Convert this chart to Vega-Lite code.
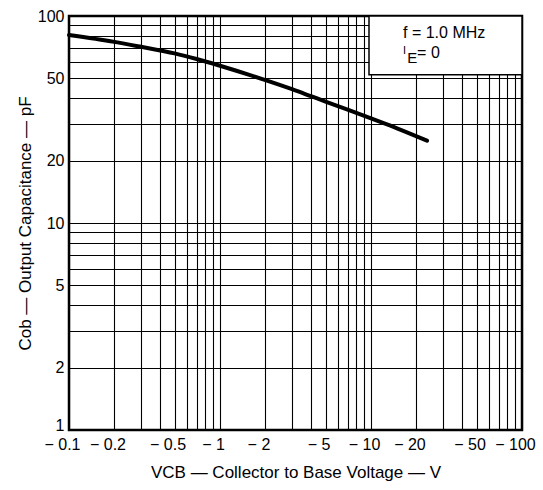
{
  "$schema": "https://vega.github.io/schema/vega-lite/v6.json",
  "width": 453,
  "height": 414,
  "autosize": {"type": "none"},
  "padding": {"left": 69, "top": 16, "right": 21, "bottom": 60},
  "background": "white",
  "config": {
    "font": "Liberation Sans",
    "view": {"stroke": "black", "strokeWidth": 2.5},
    "axis": {
      "grid": true,
      "gridColor": "black",
      "gridOpacity": 1,
      "gridWidth": 1.1,
      "ticks": false,
      "domain": false,
      "labelFont": "Liberation Sans",
      "labelFontSize": 16,
      "labelColor": "black",
      "titleFont": "Liberation Sans",
      "titleFontSize": 17,
      "titleFontWeight": "normal",
      "titleColor": "black"
    }
  },
  "datasets": {
    "curve": [
      {"v": 0.1, "c": 81},
      {"v": 0.2, "c": 75},
      {"v": 0.3, "c": 71},
      {"v": 0.5, "c": 66},
      {"v": 0.7, "c": 62},
      {"v": 1, "c": 57.5},
      {"v": 2, "c": 49},
      {"v": 3, "c": 44.3},
      {"v": 4, "c": 41},
      {"v": 5, "c": 38.6},
      {"v": 7, "c": 35.3},
      {"v": 10, "c": 32},
      {"v": 15, "c": 28.6},
      {"v": 23.5, "c": 25}
    ],
    "box": [{"x1": 9.7, "x2": 100, "y1": 52, "y2": 100}],
    "note1": [{"v": 16.3, "c": 78.3, "t": "f = 1.0  MHz"}],
    "noteI": [{"v": 16.3, "c": 65.5, "t": "I"}],
    "noteE": [{"v": 17.4, "c": 59.5, "t": "E"}],
    "noteEq": [{"v": 20.2, "c": 63, "t": "= 0"}]
  },
  "layer": [
    {
      "data": {"name": "curve"},
      "mark": {"type": "line", "color": "black", "strokeWidth": 4, "interpolate": "monotone", "strokeCap": "round"},
      "encoding": {
        "x": {
          "field": "v", "type": "quantitative",
          "scale": {"type": "log", "domain": [0.1, 100], "nice": false},
          "axis": {
            "title": "VCB — Collector to Base Voltage — V",
            "titlePadding": 12,
            "labelPadding": 6,
            "labelFlush": false,
            "labelAlign": "center",
            "labelOffset": -7,
            "values": [0.1,0.2,0.3,0.4,0.5,0.6,0.7,0.8,0.9,1,2,3,4,5,6,7,8,9,10,20,30,40,50,60,70,80,90,100],
            "labelExpr": "indexof([0.1,0.2,0.5,1,2,5,10,20,50,100], datum.value) >= 0 ? '− ' + datum.label : ''",
            "format": "~g",
            "labelOverlap": false
          }
        },
        "y": {
          "field": "c", "type": "quantitative",
          "scale": {"type": "log", "domain": [1, 100], "nice": false},
          "axis": {
            "title": "Cob — Output Capacitance — pF",
            "titlePadding": 3,
            "labelPadding": 5,
            "labelFlush": false,
            "labelBaseline": {"condition": {"test": "datum.value === 1", "value": "alphabetic"}, "value": "middle"},
            "values": [1,2,3,4,5,6,7,8,9,10,20,30,40,50,60,70,80,90,100],
            "labelExpr": "indexof([1,2,5,10,20,50,100], datum.value) >= 0 ? datum.label : ''",
            "format": "~g",
            "labelOverlap": false
          }
        }
      }
    },
    {
      "data": {"name": "box"},
      "mark": {"type": "rect", "fill": "white", "stroke": "black", "strokeWidth": 1.5},
      "encoding": {
        "x": {"field": "x1", "type": "quantitative", "scale": {"type": "log", "domain": [0.1, 100], "nice": false}},
        "x2": {"field": "x2"},
        "y": {"field": "y1", "type": "quantitative", "scale": {"type": "log", "domain": [1, 100], "nice": false}},
        "y2": {"field": "y2"}
      }
    },
    {
      "data": {"name": "note1"},
      "mark": {"type": "text", "align": "left", "baseline": "alphabetic", "fontSize": 16, "color": "black"},
      "encoding": {
        "x": {"field": "v", "type": "quantitative", "scale": {"type": "log", "domain": [0.1, 100], "nice": false}},
        "y": {"field": "c", "type": "quantitative", "scale": {"type": "log", "domain": [1, 100], "nice": false}},
        "text": {"field": "t"}
      }
    },
    {
      "data": {"name": "noteI"},
      "mark": {"type": "text", "align": "left", "baseline": "alphabetic", "fontSize": 11, "color": "black"},
      "encoding": {
        "x": {"field": "v", "type": "quantitative", "scale": {"type": "log", "domain": [0.1, 100], "nice": false}},
        "y": {"field": "c", "type": "quantitative", "scale": {"type": "log", "domain": [1, 100], "nice": false}},
        "text": {"field": "t"}
      }
    },
    {
      "data": {"name": "noteE"},
      "mark": {"type": "text", "align": "left", "baseline": "alphabetic", "fontSize": 15, "color": "black"},
      "encoding": {
        "x": {"field": "v", "type": "quantitative", "scale": {"type": "log", "domain": [0.1, 100], "nice": false}},
        "y": {"field": "c", "type": "quantitative", "scale": {"type": "log", "domain": [1, 100], "nice": false}},
        "text": {"field": "t"}
      }
    },
    {
      "data": {"name": "noteEq"},
      "mark": {"type": "text", "align": "left", "baseline": "alphabetic", "fontSize": 16, "color": "black"},
      "encoding": {
        "x": {"field": "v", "type": "quantitative", "scale": {"type": "log", "domain": [0.1, 100], "nice": false}},
        "y": {"field": "c", "type": "quantitative", "scale": {"type": "log", "domain": [1, 100], "nice": false}},
        "text": {"field": "t"}
      }
    }
  ]
}
